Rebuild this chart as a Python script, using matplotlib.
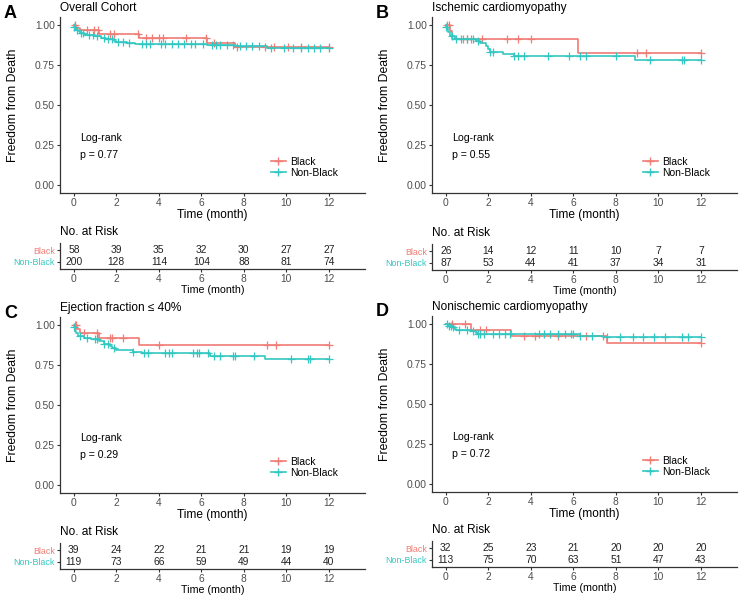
import numpy as np
import matplotlib
matplotlib.use("Agg")
import matplotlib.pyplot as plt
from matplotlib.lines import Line2D

plt.rcParams['font.family'] = ['Liberation Sans', 'DejaVu Sans']

RED = '#F07C76'
CYAN = '#33C7C1'
W, H = 740, 596

risk_times = [0, 2, 4, 6, 8, 10, 12]

# Panel A - Overall Cohort
a_black_t = [0, 0.1, 0.3, 1.2, 3.05, 6.25, 7.6]
a_black_s = [1.0, 0.983, 0.966, 0.946, 0.916, 0.887, 0.860]
a_black_c = [0.05, 0.6, 0.95, 1.15, 1.7, 1.9, 3.0, 3.4, 3.7, 4.0, 4.2, 5.3, 6.2, 6.6, 7.7, 9.0, 9.4, 10.1, 10.7, 12]
a_nb_t = [0, 0.05, 0.1, 0.2, 0.3, 0.5, 1.0, 1.3, 1.5, 1.9, 2.0, 2.5, 2.9, 6.25, 7.6, 9.1]
a_nb_s = [0.99, 0.98, 0.97, 0.96, 0.95, 0.94, 0.93, 0.92, 0.91, 0.90, 0.895, 0.887, 0.880, 0.873, 0.868, 0.858]
a_nb_c = [0.02, 0.15, 0.35, 0.45, 0.7, 0.9, 1.1, 1.4, 1.6, 1.8, 2.1, 2.3, 2.6, 3.2, 3.4, 3.6, 4.1, 4.3, 4.6,
          4.9, 5.2, 5.5, 5.7, 6.1, 6.5, 6.7, 6.9, 7.2, 7.5, 7.8, 8.1, 8.4, 8.7, 9.3, 9.9, 10.3, 10.7,
          11.0, 11.3, 11.6, 12]
a_risk_black = [58, 39, 35, 32, 30, 27, 27]
a_risk_nb = [200, 128, 114, 104, 88, 81, 74]

# Panel B - Ischemic cardiomyopathy
b_black_t = [0, 0.2, 0.28, 6.22]
b_black_s = [1.0, 0.962, 0.910, 0.826]
b_black_c = [0.05, 0.15, 0.8, 1.0, 1.2, 1.7, 2.9, 3.4, 4.0, 9.0, 9.4, 12]
b_nb_t = [0, 0.05, 0.1, 0.2, 0.45, 1.4, 1.6, 1.9, 2.0, 2.1, 2.7, 3.2, 8.9]
b_nb_s = [0.99, 0.977, 0.955, 0.93, 0.91, 0.897, 0.885, 0.868, 0.85, 0.833, 0.820, 0.805, 0.782]
b_nb_c = [0.02, 0.3, 0.5, 0.7, 1.0, 1.3, 1.5, 2.1, 2.2, 3.2, 3.4, 3.7, 4.8, 5.8, 6.3, 6.6, 8.0, 9.6, 11.1, 11.2, 12]
b_risk_black = [26, 14, 12, 11, 10, 7, 7]
b_risk_nb = [87, 53, 44, 41, 37, 34, 31]

# Panel C - Ejection fraction <= 40%
c_black_t = [0, 0.15, 0.3, 1.2, 3.05]
c_black_s = [1.0, 0.974, 0.947, 0.92, 0.875]
c_black_c = [0.05, 0.1, 0.5, 1.1, 1.7, 1.8, 2.3, 4.0, 9.1, 9.5, 12]
c_nb_t = [0, 0.05, 0.1, 0.2, 0.5, 0.8, 1.2, 1.4, 1.7, 1.8, 2.0, 2.8, 3.2, 6.4, 9.0]
c_nb_s = [0.99, 0.965, 0.95, 0.93, 0.92, 0.91, 0.90, 0.88, 0.87, 0.855, 0.843, 0.832, 0.822, 0.806, 0.789]
c_nb_c = [0.02, 0.3, 0.6, 1.0, 1.1, 1.4, 1.6, 1.9, 2.8, 3.3, 3.5, 4.3, 4.5, 4.6, 5.6, 5.8, 5.9,
          6.3, 6.6, 6.9, 7.5, 7.6, 8.5, 10.2, 11.0, 11.1, 12]
c_risk_black = [39, 24, 22, 21, 21, 19, 19]
c_risk_nb = [119, 73, 66, 59, 49, 44, 40]

# Panel D - Nonischemic cardiomyopathy
d_black_t = [0, 1.2, 3.05, 7.6]
d_black_s = [1.0, 0.962, 0.927, 0.882]
d_black_c = [0.3, 0.9, 1.6, 1.9, 3.7, 4.2, 5.3, 6.6, 7.4, 12]
d_nb_t = [0, 0.1, 0.3, 0.4, 0.5, 1.2, 1.4, 1.5, 6.3, 7.4]
d_nb_s = [1.0, 0.99, 0.98, 0.97, 0.96, 0.955, 0.945, 0.937, 0.928, 0.92]
d_nb_c = [0.05, 0.15, 0.25, 0.35, 0.6, 1.0, 1.3, 1.5, 1.6, 1.8, 2.2, 2.5, 2.8, 3.0, 4.4, 4.6, 4.9,
          5.3, 5.6, 5.9, 6.0, 6.3, 6.9, 7.6, 8.2, 8.8, 9.3, 9.8, 10.3, 11.1, 11.4, 12]
d_risk_black = [32, 25, 23, 21, 20, 20, 20]
d_risk_nb = [113, 75, 70, 63, 51, 47, 43]


def rect(l, t, r, b):
    return [l / W, 1 - b / H, (r - l) / W, (b - t) / H]


def ftext(x, y, s, **kw):
    fig.text(x / W, 1 - y / H, s, **kw)


def style_axis(ax):
    for sp in ['top', 'right']:
        ax.spines[sp].set_visible(False)
    for sp in ['left', 'bottom']:
        ax.spines[sp].set_linewidth(0.9)
        ax.spines[sp].set_color('#333333')
    ax.tick_params(length=2.5, width=0.8, color='#333333', pad=1.2,
                   labelsize=7.4, labelcolor='#4D4D4D')
    ax.set_xlim(-0.65, 13.7)
    ax.set_xticks(risk_times)


def km_line(ax, t, s, cens, color):
    tt = list(t) + [12]
    ss = list(s) + [s[-1]]
    ax.step(tt, ss, where='post', color=color, lw=1.2)
    idx = np.searchsorted(np.array(t), np.array(cens), side='right') - 1
    ax.plot(cens, np.array(s)[idx], ls='none', marker='+', ms=5.5, mew=0.9, color=color)


def panel(x0, y0, letter, title, bt, bs, bc, nt, ns, nc, pval, rb, rn, tab_off=0):
    # survival axes
    ax = fig.add_axes(rect(x0, y0 + 17, x0 + 305, y0 + 193))
    style_axis(ax)
    ax.set_ylim(-0.05, 1.05)
    ax.set_yticks([0, 0.25, 0.5, 0.75, 1.0])
    ax.set_yticklabels(['0.00', '0.25', '0.50', '0.75', '1.00'])
    km_line(ax, bt, bs, bc, RED)
    km_line(ax, nt, ns, nc, CYAN)
    ax.text(0.28, 0.295, 'Log-rank', fontsize=7.6, va='center')
    ax.text(0.28, 0.185, 'p = ' + pval, fontsize=7.6, va='center')
    handles = [Line2D([], [], color=RED, lw=1.2, marker='+', ms=5.5),
               Line2D([], [], color=CYAN, lw=1.2, marker='+', ms=5.5)]
    ax.legend(handles, ['Black', 'Non-Black'], loc='lower left', bbox_to_anchor=(0.675, 0.055),
              frameon=False, fontsize=7.5, handlelength=1.4, handletextpad=0.4,
              labelspacing=0.15, borderpad=0)
    ax.set_xlabel('Time (month)', fontsize=8.6, labelpad=0.5)

    ftext(x0 - 47, y0 + 105, 'Freedom from Death', rotation=90, fontsize=8.8,
          va='center', ha='center')
    ftext(x0 - 56, y0 + 13, letter, fontsize=13, fontweight='bold', va='center')
    ftext(x0, y0 + 8, title, fontsize=8.6, va='center')

    # risk table
    ty = y0 + 243 + tab_off
    tab = fig.add_axes(rect(x0, ty, x0 + 305, ty + 26))
    style_axis(tab)
    tab.set_ylim(0.4, 2.6)
    tab.set_yticks([2, 1])
    tab.set_yticklabels(['Black', 'Non-Black'], fontsize=6.4)
    tab.get_yticklabels()[0].set_color(RED)
    tab.get_yticklabels()[1].set_color(CYAN)
    for t, n in zip(risk_times, rb):
        tab.text(t, 2, str(n), ha='center', va='center', fontsize=7.4, color='#222222')
    for t, n in zip(risk_times, rn):
        tab.text(t, 1, str(n), ha='center', va='center', fontsize=7.4, color='#222222')
    tab.set_xlabel('Time (month)', fontsize=7.7, labelpad=0.5)
    ftext(x0, ty - 11, 'No. at Risk', fontsize=8.6, va='center')


fig = plt.figure(figsize=(7.4, 5.96), dpi=100)

panel(60, 0, 'A', 'Overall Cohort', a_black_t, a_black_s, a_black_c,
      a_nb_t, a_nb_s, a_nb_c, '0.77', a_risk_black, a_risk_nb)
panel(432, 0, 'B', 'Ischemic cardiomyopathy', b_black_t, b_black_s, b_black_c,
      b_nb_t, b_nb_s, b_nb_c, '0.55', b_risk_black, b_risk_nb, tab_off=1)
panel(60, 300, 'C', 'Ejection fraction \u2264 40%', c_black_t, c_black_s, c_black_c,
      c_nb_t, c_nb_s, c_nb_c, '0.29', c_risk_black, c_risk_nb)
panel(432, 299, 'D', 'Nonischemic cardiomyopathy', d_black_t, d_black_s, d_black_c,
      d_nb_t, d_nb_s, d_nb_c, '0.72', d_risk_black, d_risk_nb, tab_off=-1)

fig.savefig('out.png', dpi=100)
